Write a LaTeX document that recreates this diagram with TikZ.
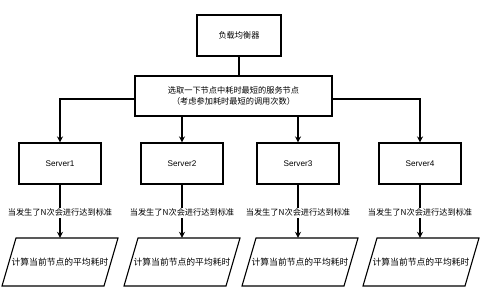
\documentclass[tikz,border=0pt]{standalone}
\usepackage{fontspec}
\setmainfont{Liberation Sans}
\newfontfamily\cjk{Noto Sans CJK SC}
\usetikzlibrary{arrows.meta}
\begin{document}
\begin{tikzpicture}[x=1pt,y=-1pt,
  box/.style={draw,line width=1.1pt,fill=white,inner sep=0pt,align=center,font=\fontsize{8.2}{11}\selectfont\cjk},
  srv/.style={draw,line width=1.1pt,inner sep=0pt,minimum width=82pt,minimum height=41pt,font=\fontsize{8.2}{10}\selectfont},
  para/.style={inner sep=0pt,minimum width=100pt,minimum height=48pt,font=\fontsize{8.8}{10}\selectfont\cjk},
  paraline/.style={line width=1.1pt,line join=miter},
  lbl/.style={fill=white,inner sep=1pt,font=\fontsize{8.2}{10}\selectfont\cjk},
  arr/.style={line width=1.1pt,-{Stealth[length=6pt,width=6pt]}},
  ln/.style={line width=1.1pt}]
\useasboundingbox (0,0) rectangle (480,300);
\fill[white] (0,0) rectangle (480,300);
\node[box,minimum width=84pt,minimum height=41pt] (top) at (239,35.5) {负载均衡器};
\node[box,minimum width=197pt,minimum height=40pt] (mid) at (233.5,96) {选取一下节点中耗时最短的服务节点\\（考虑参加耗时最短的调用次数）};
\draw[ln] (top) -- (mid.north -| top);
\node[srv] (s1) at (60,163.5) {Server1};
\node[srv] (s2) at (182,163.5) {Server2};
\node[srv] (s3) at (298,163.5) {Server3};
\node[srv] (s4) at (420,163.5) {Server4};
\node[para] (p1) at (60,262) {计算当前节点的平均耗时};
\node[para] (p2) at (182,262) {计算当前节点的平均耗时};
\node[para] (p3) at (300,262) {计算当前节点的平均耗时};
\node[para] (p4) at (421,262) {计算当前节点的平均耗时};
\foreach \i in {1,2,3,4}{
  \draw[paraline] ([shift={(-44,-24)}]p\i.center) -- ([shift={(58,-24)}]p\i.center)
     -- ([shift={(44,24)}]p\i.center) -- ([shift={(-58,24)}]p\i.center) -- cycle;
}
\draw[arr] ([yshift=-3pt]mid.west) -| (s1);
\draw[arr] ([yshift=-3pt]mid.east) -| (s4);
\draw[arr] (mid.south -| s2) -- (s2);
\draw[arr] (mid.south -| s3) -- (s3);
\foreach \i in {1,2,3,4}{
  \draw[arr] (s\i) -- node[lbl,pos=0.53]{当发生了N次会进行达到标准} (p\i.north -| s\i);
}
\end{tikzpicture}
\end{document}
